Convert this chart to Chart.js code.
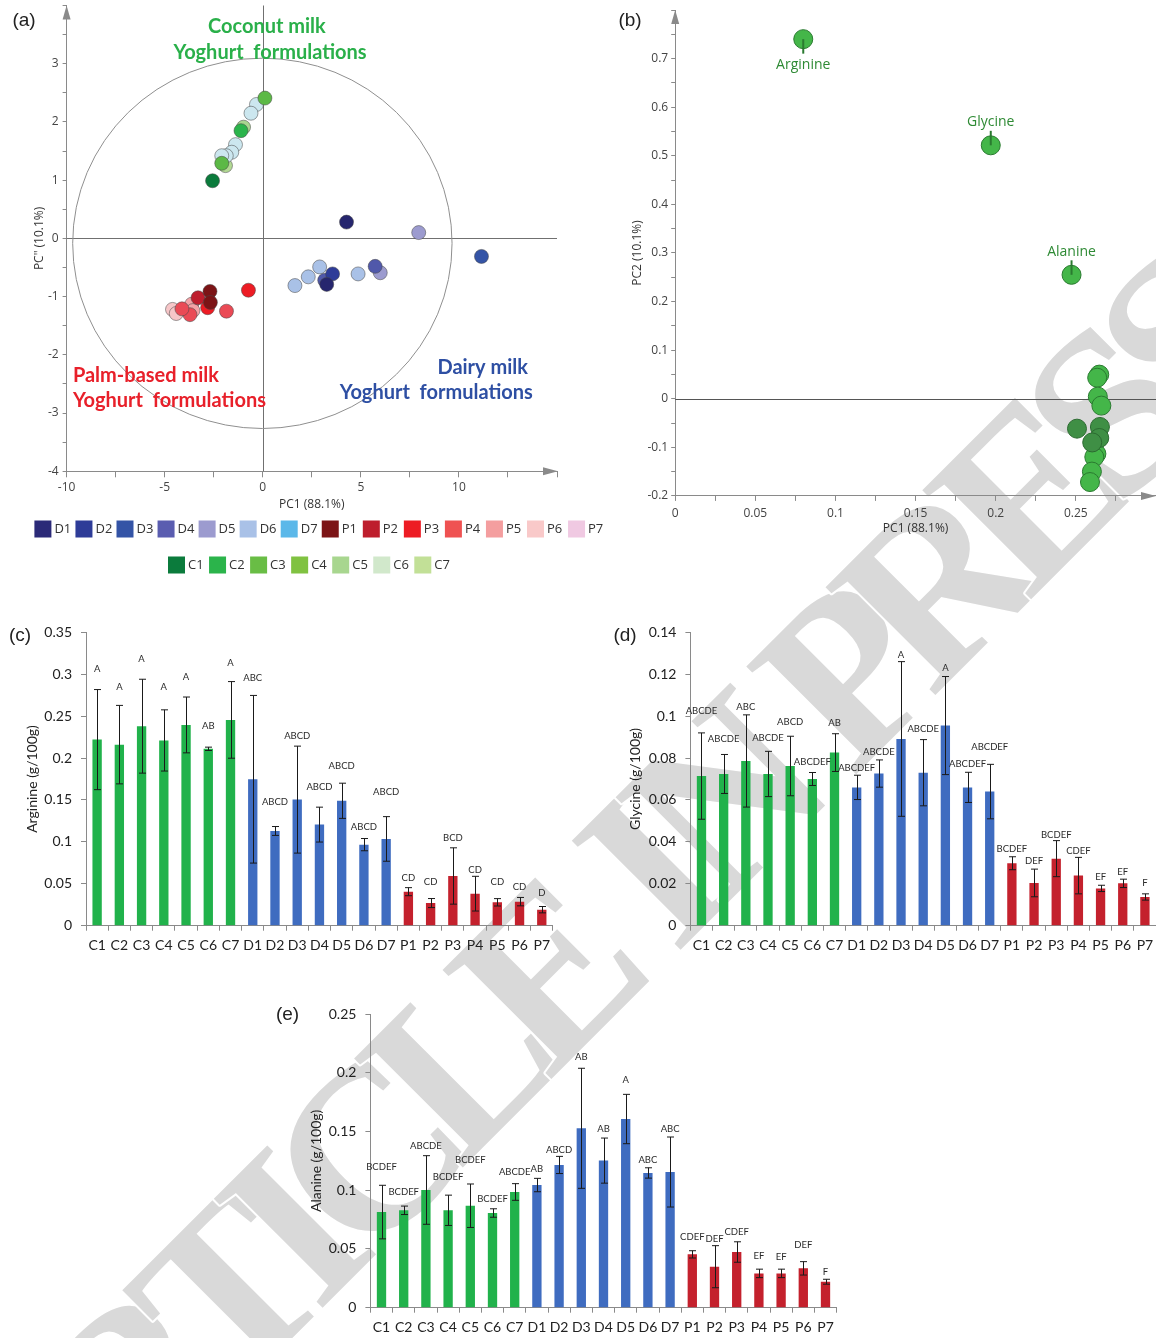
<!DOCTYPE html>
<html><head><meta charset="utf-8">
<script src="https://cdn.jsdelivr.net/npm/chart.js@4.4.1/dist/chart.umd.min.js"></script>
<style>
html,body{margin:0;padding:0;background:#fff;width:1156px;height:1338px;overflow:hidden;position:relative;}
.box{position:absolute;z-index:1;}
#wm{position:absolute;left:0;top:0;z-index:0;}
canvas{display:block;}
</style></head><body>
<canvas id="wm" width="1156" height="1338"></canvas>
<div class="box" style="left:0;top:0"><canvas id="ca" width="612" height="590"></canvas></div>
<div class="box" style="left:600px;top:0"><canvas id="cb" width="556" height="545"></canvas></div>
<div class="box" style="left:0;top:620px"><canvas id="cc" width="560" height="340"></canvas></div>
<div class="box" style="left:600px;top:620px"><canvas id="cd" width="556" height="340"></canvas></div>
<div class="box" style="left:260px;top:995px"><canvas id="ce" width="590" height="343"></canvas></div>
<script>
// ---------------- DATA ----------------
const formulations = ['D1','D2','D3','D4','D5','D6','D7','P1','P2','P3','P4','P5','P6','P7','C1','C2','C3','C4','C5','C6','C7'];
const legendColors = ['#2b2a78','#2e3c98','#3454a6','#5a5db0','#9c9bcf','#a9c1e7','#5bb8e9','#7c1416','#be1e2d','#ed1c24','#ef5252','#f49e9f','#f9c9c9','#f0c9e2','#0b7b3c','#2bb44b','#69bd45','#80c241','#a8d68f','#d1e8cb','#c2e097'];
const pointColors  = ['#26266e','#2e3c98','#3454a6','#5058aa','#9c9bcf','#a9c1e7','#5bb8e9','#7c1416','#be1e2d','#ed1c24','#ea4a55','#f4a2a6','#f7c6c8','#f0c9e2','#0b7b3c','#2bb44b','#5cb946','#5cb946','#a8d68f','#cce7ef','#b2d993'];

const scoreSample = ['C3','C6','C6','C5','C2','C6','C6','C6','C6','C4','C7','C1',
  'D1','D5','D3','D4','D5','D6','D6','D2','D4','D1','D6','D6',
  'P3','P1','P2','P1','P3','P4','P4','P5','P5','P4','P6','P6'];
const scorePC1 = [0.11,-0.32,-0.60,-0.98,-1.11,-1.39,-1.58,-1.86,-2.09,-2.09,-1.90,-2.56,
  4.27,7.95,11.15,5.73,5.99,4.86,2.90,3.56,3.16,3.26,2.32,1.64,
  -0.73,-2.69,-3.30,-2.67,-2.81,-1.85,-3.71,-3.62,-3.56,-4.12,-4.60,-4.41];
const scorePC2 = [2.41,2.30,2.15,1.91,1.85,1.61,1.48,1.42,1.42,1.29,1.25,0.99,
  0.28,0.10,-0.31,-0.48,-0.59,-0.61,-0.49,-0.61,-0.72,-0.79,-0.66,-0.81,
  -0.89,-0.91,-1.02,-1.10,-1.19,-1.25,-1.31,-1.13,-1.24,-1.21,-1.22,-1.29];
const confEllipse = [-0.02, -0.085, 9.67, 3.18]; // centre PC1, centre PC2, semi-axis PC1, semi-axis PC2

const loadName = ['Arginine','Glycine','Alanine','','','','','','','','','','','',''];
const loadPC1 = [0.0799,0.1969,0.2473,0.2646,0.2633,0.2637,0.2659,0.2507,0.2650,0.2646,0.2602,0.2628,0.2615,0.2600,0.2588];
const loadPC2 = [0.740,0.5215,0.255,0.0496,0.0432,0.0043,-0.0142,-0.0616,-0.0581,-0.0808,-0.090,-0.1134,-0.12,-0.150,-0.1715];
const loadShade = [0,0,0,0,0,0,0,1,1,1,1,0,0,0,0];

const categories = ['C1','C2','C3','C4','C5','C6','C7','D1','D2','D3','D4','D5','D6','D7','P1','P2','P3','P4','P5','P6','P7'];
const arginineMean = [0.222,0.216,0.238,0.221,0.2395,0.211,0.2455,0.1747,0.113,0.1504,0.1206,0.149,0.0967,0.1035,0.0406,0.027,0.0593,0.0382,0.0279,0.0287,0.0191];
const arginineSD   = [0.0597,0.0468,0.056,0.0365,0.0333,0.002,0.0457,0.100,0.0053,0.0638,0.0208,0.021,0.0073,0.0266,0.0048,0.0054,0.0336,0.0207,0.0044,0.005,0.0038];
const arginineLetters = ['A','A','A','A','A','AB','A','ABC','ABCD','ABCD','ABCD','ABCD','ABCD','ABCD','CD','CD','BCD','CD','CD','CD','D'];
const arginineLetterAt = [0.306,0.2854,0.318,0.2854,0.2973,0.2384,0.314,0.2961,0.1473,0.2269,0.1652,0.1902,0.1182,0.16,0.0573,0.0517,0.1047,0.0665,0.0517,0.0466,0.0386];
const arginineTicks = ['0','0.05','0.1','0.15','0.2','0.25','0.3','0.35'];

const glycineMean = [0.0714,0.0724,0.0786,0.0724,0.0762,0.070,0.0826,0.066,0.0726,0.0891,0.073,0.0955,0.066,0.064,0.0298,0.0204,0.032,0.0239,0.0178,0.0202,0.0137];
const glycineSD   = [0.0206,0.0093,0.022,0.0108,0.0142,0.0031,0.009,0.0058,0.0065,0.0369,0.0158,0.0234,0.0072,0.013,0.0031,0.0066,0.0086,0.0087,0.0015,0.002,0.0015];
const glycineLetters = ['ABCDE','ABCDE','ABC','ABCDE','ABCD','ABCDEF','AB','ABCDEF','ABCDE','A','ABCDE','A','ABCDEF','ABCDEF','BCDEF','DEF','BCDEF','CDEF','EF','EF','F'];
const glycineLetterAt = [0.1025,0.0889,0.1045,0.0896,0.097,0.0783,0.0967,0.0754,0.0829,0.1293,0.0939,0.1231,0.0773,0.0853,0.0368,0.0309,0.0434,0.0358,0.0232,0.0255,0.0204];
const glycineTicks = ['0','0.02','0.04','0.06','0.08','0.1','0.12','0.14'];

const alanineMean = [0.0814,0.0829,0.1002,0.0829,0.0868,0.0806,0.0985,0.1044,0.1215,0.1527,0.1252,0.1606,0.1147,0.1155,0.0454,0.0349,0.0474,0.0292,0.0292,0.0335,0.0221];
const alanineSD   = [0.0228,0.0036,0.0292,0.0129,0.0185,0.0036,0.0071,0.0057,0.0073,0.0511,0.0192,0.021,0.0044,0.0298,0.0031,0.0179,0.0087,0.0036,0.0036,0.0057,0.0021];
const alanineLetters = ['BCDEF','BCDEF','ABCDE','BCDEF','BCDEF','BCDEF','ABCDE','AB','ABCD','AB','AB','A','ABC','ABC','CDEF','DEF','CDEF','EF','EF','DEF','F'];
const alanineLetterAt = [0.12,0.0988,0.1379,0.1115,0.126,0.0928,0.1152,0.1178,0.1342,0.2131,0.1524,0.1941,0.126,0.1524,0.0602,0.0582,0.0644,0.0443,0.0434,0.0531,0.0301];
const alanineTicks = ['0','0.05','0.1','0.15','0.2','0.25'];

const watermarkText = 'ARTICLE IN PRESS';

// ---------------- WATERMARK (behind the charts) ----------------
(function(){
  const c = document.getElementById('wm').getContext('2d');
  const fs = 235;
  c.font = 'bold ' + fs + 'px "Liberation Serif", "Times New Roman", serif';
  const w = s => c.measureText(s).width;
  const chars = watermarkText.split('');
  const centres = chars.map((ch,i) => w(watermarkText.slice(0,i)) + w(ch)/2);
  const iC = 4, iS = 14;                         // the "C" and the first "S"
  const k = 1049 / (centres[iS] - centres[iC]);
  c.save();
  c.translate(367, 1151);
  c.rotate(-45 * Math.PI / 180);
  c.textAlign = 'center'; c.textBaseline = 'alphabetic';
  c.lineJoin = 'round'; c.lineWidth = 4; c.strokeStyle = '#ffffff'; c.fillStyle = '#d9d9d9';
  chars.forEach((ch,i) => {
    if (ch === ' ') return;
    const x = (centres[i] - centres[iC]) * k, y = 0.338 * fs;
    c.strokeText(ch, x, y); c.fillText(ch, x, y);
  });
  c.restore();
})();

// ---------------- HELPERS ----------------
Chart.defaults.font.family = '"Open Sans", sans-serif';
Chart.defaults.animation = false;
const AX = '#8a8a8a';
const groupColor = c => c[0]==='C' ? '#21b24b' : (c[0]==='D' ? '#3f6cc0' : '#c4212d');

function fixY(w){ return s => { s.width = w; s.paddingTop = 0; s.paddingBottom = 0; }; }
function fixX(h){ return s => { s.height = h; s.paddingLeft = 0; s.paddingRight = 0; }; }
function arrowUp(ctx,x,y){ ctx.beginPath(); ctx.moveTo(x,y); ctx.lineTo(x-4,y+14); ctx.lineTo(x+4,y+14); ctx.closePath(); ctx.fill(); }
function arrowRight(ctx,x,y){ ctx.beginPath(); ctx.moveTo(x,y); ctx.lineTo(x-15,y-4); ctx.lineTo(x-15,y+4); ctx.closePath(); ctx.fill(); }
function panelLetter(ctx,t,x,y){ ctx.save(); ctx.font='19px "Liberation Sans", Arial, sans-serif'; ctx.fillStyle='#222'; ctx.textAlign='center'; ctx.textBaseline='middle'; ctx.fillText(t,x,y); ctx.restore(); }

// ---------------- (a) SCORES ----------------
const scoreDatasets = formulations.map((f,k) => ({
  label: f,
  data: scoreSample.map((s,i)=> s===f ? {x: scorePC1[i], y: scorePC2[i]} : null).filter(p=>p),
  backgroundColor: pointColors[k],
  borderColor: 'rgba(70,70,70,0.65)',
  borderWidth: 0.8,
  pointRadius: 7
}));
const scoreTexts = [
  {t:'Coconut milk', x:0.21, y:3.63, c:'#2ab04a', a:'center'},
  {t:'Yoghurt  formulations', x:0.37, y:3.20, c:'#2ab04a', a:'center'},
  {t:'Palm-based milk', x:-9.68, y:-2.36, c:'#e8202a', a:'left'},
  {t:'Yoghurt  formulations', x:-9.68, y:-2.79, c:'#e8202a', a:'left'},
  {t:'Dairy milk', x:13.52, y:-2.21, c:'#2e4fa3', a:'right'},
  {t:'Yoghurt  formulations', x:13.77, y:-2.65, c:'#2e4fa3', a:'right'}
];
new Chart(document.getElementById('ca'), {
  type: 'scatter',
  data: { datasets: scoreDatasets },
  options: {
    responsive:false, events:[],
    layout:{autoPadding:false, padding:{left:28.8, top:5.5, right:612-557, bottom:590-516.2}},
    plugins:{legend:{display:false}, tooltip:{enabled:false}},
    scales:{
      x:{type:'linear', min:-10, max:15, afterFit:fixX(44.9),
        ticks:{stepSize:2.5, autoSkip:false, maxRotation:0, padding:3.5, color:'#444', font:{size:12},
          callback:v=> (Math.abs(v%5)<1e-9 && v<14) ? String(v) : ''},
        grid:{drawOnChartArea:false, tickLength:6, color:AX}, border:{color:AX},
        title:{display:true, text:'PC1 (88.1%)', color:'#333', font:{size:12}, padding:{top:4,bottom:4}}},
      y:{type:'linear', min:-4, max:4, afterFit:fixY(37.8),
        ticks:{stepSize:0.5, autoSkip:false, padding:4, color:'#444', font:{size:12},
          callback:v=> (Math.abs(v-Math.round(v))<1e-9 && v<3.9) ? String(Math.round(v)) : ''},
        grid:{drawOnChartArea:false, tickLength:4, color:AX}, border:{color:AX},
        title:{display:true, text:'PC" (10.1%)', color:'#333', font:{size:12}, padding:{top:4,bottom:4}}}
    }
  },
  plugins:[{
    id:'scoreExtras',
    beforeDatasetsDraw(chart){
      const {ctx, chartArea:a, scales:{x,y}} = chart;
      ctx.save();
      ctx.strokeStyle='#707070'; ctx.lineWidth=1;
      const x0 = Math.round(x.getPixelForValue(0))+0.5, y0 = Math.round(y.getPixelForValue(0))+0.5;
      ctx.beginPath(); ctx.moveTo(x0,a.top); ctx.lineTo(x0,a.bottom); ctx.moveTo(a.left,y0); ctx.lineTo(a.right,y0); ctx.stroke();
      ctx.strokeStyle='#8f8f8f';
      const cx = x.getPixelForValue(confEllipse[0]), cy = y.getPixelForValue(confEllipse[1]);
      const rx = x.getPixelForValue(confEllipse[0]+confEllipse[2]) - cx, ry = cy - y.getPixelForValue(confEllipse[1]+confEllipse[3]);
      ctx.beginPath(); ctx.ellipse(cx,cy,rx,ry,0,0,Math.PI*2); ctx.stroke();
      ctx.restore();
    },
    afterDraw(chart){
      const {ctx, chartArea:a, scales:{x,y}} = chart;
      ctx.save();
      ctx.fillStyle=AX;
      arrowUp(ctx, a.left, a.top); arrowRight(ctx, a.right+1, a.bottom);
      ctx.font='bold 20px Lato, sans-serif'; ctx.textBaseline='middle';
      scoreTexts.forEach(s=>{ ctx.fillStyle=s.c; ctx.textAlign=s.a; ctx.fillText(s.t, x.getPixelForValue(s.x), y.getPixelForValue(s.y)); });
      // legend
      ctx.font='13px "Open Sans", sans-serif'; ctx.textAlign='left'; ctx.textBaseline='middle';
      const rows=[{from:0,to:14,x:34.4,y:529},{from:14,to:21,x:168,y:565}];
      rows.forEach(r=>{ let px=r.x; for(let i=r.from;i<r.to;i++){ ctx.fillStyle=legendColors[i]; ctx.fillRect(px, r.y-8.5, 17, 17); ctx.fillStyle='#333'; ctx.fillText(formulations[i], px+20, r.y+0.5); px+=41.05; } });
      ctx.restore();
      panelLetter(ctx,'(a)',24,21);
    }
  }]
});

// ---------------- (b) LOADINGS ----------------
new Chart(document.getElementById('cb'), {
  type:'scatter',
  data:{datasets:[
    {data: loadPC1.map((v,i)=> loadShade[i]===1 ? {x:v,y:loadPC2[i]} : null).filter(p=>p),
      backgroundColor:'#3f8f45', borderColor:'#2b6a30', borderWidth:1, pointRadius:9.5},
    {data: loadPC1.map((v,i)=> loadShade[i]===0 ? {x:v,y:loadPC2[i]} : null).filter(p=>p),
      backgroundColor:'#44b649', borderColor:'#2a7a30', borderWidth:1, pointRadius:9.5}
  ]},
  options:{
    responsive:false, events:[],
    layout:{autoPadding:false, padding:{left:26.8, top:10, right:0, bottom:545-540.2}},
    plugins:{legend:{display:false}, tooltip:{enabled:false}},
    scales:{
      x:{type:'linear', min:0, max:0.3, afterFit:fixX(44.3),
        ticks:{stepSize:0.025, autoSkip:false, maxRotation:0, padding:5, color:'#444', font:{size:12},
          callback:v=>{ const r=Math.round(v*1000)/1000; return (Math.abs(r*20-Math.round(r*20))<1e-6 && r<0.29) ? String(r) : ''; }},
        grid:{drawOnChartArea:false, tickLength:5, color:AX}, border:{color:AX},
        title:{display:true, text:'PC1 (88.1%)', color:'#333', font:{size:12}, padding:{top:4,bottom:4}}},
      y:{type:'linear', min:-0.2, max:0.8, afterFit:fixY(48.4),
        ticks:{stepSize:0.05, autoSkip:false, padding:3, color:'#444', font:{size:12},
          callback:v=>{ const r=Math.round(v*100)/100; return (Math.abs(r*10-Math.round(r*10))<1e-6 && r<0.75) ? String(r) : ''; }},
        grid:{drawOnChartArea:false, tickLength:4, color:AX}, border:{color:AX},
        title:{display:true, text:'PC2 (10.1%)', color:'#333', font:{size:12}, padding:{top:4,bottom:4}}}
    }
  },
  plugins:[{
    id:'loadExtras',
    beforeDatasetsDraw(chart){
      const {ctx, chartArea:a, scales:{y}} = chart;
      const y0 = Math.round(y.getPixelForValue(0))+0.5;
      ctx.save(); ctx.strokeStyle='#555'; ctx.lineWidth=1;
      ctx.beginPath(); ctx.moveTo(a.left,y0); ctx.lineTo(a.right,y0); ctx.stroke(); ctx.restore();
    },
    afterDraw(chart){
      const {ctx, chartArea:a, scales:{x,y}} = chart;
      ctx.save();
      ctx.fillStyle=AX; arrowUp(ctx,a.left,a.top); arrowRight(ctx,a.right,a.bottom);
      ctx.font='14px "Open Sans", sans-serif'; ctx.textAlign='center'; ctx.textBaseline='middle';
      ctx.strokeStyle='#2a7a30'; ctx.lineWidth=2; ctx.fillStyle='#2e8a34';
      loadName.forEach((n,i)=>{
        if(!n) return;
        const px=x.getPixelForValue(loadPC1[i]), py=y.getPixelForValue(loadPC2[i]);
        const below = py < 45;
        const ty = below ? py+25.5 : py-23, ly = below ? py+14.5 : py-14.5;
        ctx.beginPath(); ctx.moveTo(px,py); ctx.lineTo(px,ly); ctx.stroke();
        ctx.fillText(n, px, ty);
      });
      ctx.restore();
      panelLetter(ctx,'(b)',30,21);
    }
  }]
});

// ---------------- (c)(d)(e) BARS ----------------
function barChart(id, mean, sd, letters, letterAt, tickLabels, step, max, title, geo){
  new Chart(document.getElementById(id), {
    type:'bar',
    data:{labels:categories, datasets:[{data:mean, backgroundColor:categories.map(groupColor), borderWidth:0, categoryPercentage:1, barPercentage:0.42}]},
    options:{
      responsive:false, events:[],
      layout:{autoPadding:false, padding:{left:geo.pl, top:geo.top, right:geo.pr, bottom:geo.pb}},
      plugins:{legend:{display:false}, tooltip:{enabled:false}},
      scales:{
        x:{type:'category', afterFit:fixX(geo.xh),
          ticks:{autoSkip:false, maxRotation:0, padding:6, color:'#222', font:{family:'Lato, sans-serif', size:14}},
          grid:{drawOnChartArea:false, offset:true, tickLength:5, color:AX}, border:{color:AX}},
        y:{type:'linear', min:0, max:max, afterFit:fixY(geo.yw),
          ticks:{stepSize:step, autoSkip:false, padding:9, color:'#222', font:{family:'Lato, sans-serif', size:14},
            callback:(v,i)=> tickLabels[i] !== undefined ? tickLabels[i] : ''},
          grid:{drawOnChartArea:false, tickLength:5, color:AX}, border:{color:AX},
          title:{display:true, text:title, color:'#222', font:{family:'Lato, sans-serif', size:14}, padding:{top:4,bottom:4}}}
      }
    },
    plugins:[{
      id:'barExtras',
      afterDatasetsDraw(chart){
        const ctx=chart.ctx, y=chart.scales.y, meta=chart.getDatasetMeta(0);
        ctx.save(); ctx.strokeStyle='#1a1a1a'; ctx.lineWidth=1;
        meta.data.forEach((bar,i)=>{
          const x=Math.round(bar.x)+0.5;
          const yt=y.getPixelForValue(mean[i]+sd[i]), yb=y.getPixelForValue(mean[i]-sd[i]);
          ctx.beginPath();
          ctx.moveTo(x,yt); ctx.lineTo(x,yb);
          ctx.moveTo(x-3.5,yt); ctx.lineTo(x+3.5,yt);
          ctx.moveTo(x-3.5,yb); ctx.lineTo(x+3.5,yb);
          ctx.stroke();
        });
        ctx.fillStyle='#2b2b2b'; ctx.font='9.5px Lato, sans-serif'; ctx.textAlign='center'; ctx.textBaseline='middle';
        meta.data.forEach((bar,i)=> ctx.fillText(letters[i], bar.x, y.getPixelForValue(letterAt[i])));
        ctx.restore();
        panelLetter(ctx, geo.letter, geo.lx, geo.ly);
      }
    }]
  });
}
barChart('cc', arginineMean, arginineSD, arginineLetters, arginineLetterAt, arginineTicks, 0.05, 0.35, 'Arginine (g/100g)',
  {pl:19.6, yw:66.4, top:12.3, pr:560-552.9, xh:34, pb:340-305.7-34, letter:'(c)', lx:20, ly:16});
barChart('cd', glycineMean, glycineSD, glycineLetters, glycineLetterAt, glycineTicks, 0.02, 0.14, 'Glycine (g/100g)',
  {pl:23.1, yw:67.3, top:12.3, pr:0, xh:34, pb:340-305.7-34, letter:'(d)', lx:25, ly:16});
barChart('ce', alanineMean, alanineSD, alanineLetters, alanineLetterAt, alanineTicks, 0.05, 0.25, 'Alanine (g/100g)',
  {pl:44, yw:66.4, top:19, pr:590-576.6, xh:30, pb:343-312.7-30, letter:'(e)', lx:27.5, ly:20});
</script>
</body></html>
